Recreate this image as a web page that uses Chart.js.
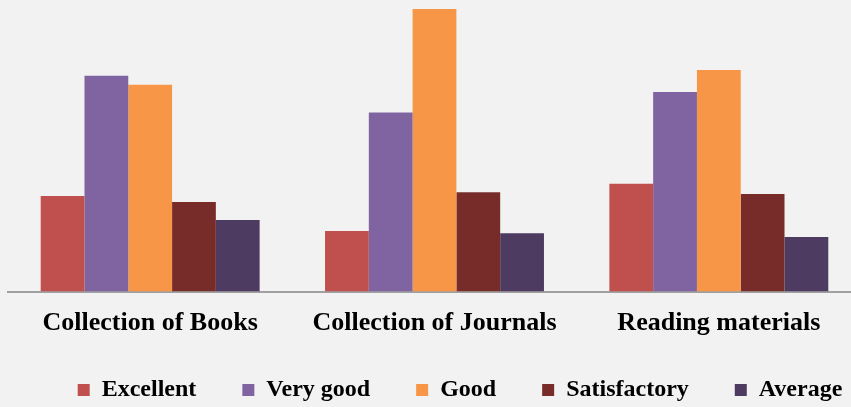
<!DOCTYPE html>
<html>
<head>
<meta charset="utf-8">
<script src="https://cdn.jsdelivr.net/npm/chart.js@4.4.0/dist/chart.umd.min.js"></script>
<style>
    html, body { margin: 0; padding: 0; background: #f2f2f2; overflow: hidden; }
    #wrap { position: absolute; left: 0; top: 0; width: 920px; height: 407px; }
</style>
</head>
<body>
<div id="wrap"><canvas id="ratingChart"></canvas></div>
<script>
// Categories and series
const categories = ['Collection of Books', 'Collection of Journals', 'Reading materials'];
const excellent = [34.1, 21.6, 38.4];
const veryGood = [77.0, 63.9, 71.2];
const good = [73.8, 100.8, 79.0];
const satisfactory = [31.9, 35.4, 34.8];
const average = [25.5, 20.8, 19.4];

const seriesNames = ['Excellent', 'Very good', 'Good', 'Satisfactory', 'Average'];
const seriesColors = ['#c0504d', '#8064a2', '#f79646', '#772c2a', '#4d3b62'];
const seriesData = [excellent, veryGood, good, satisfactory, average];

const serif = "'Liberation Serif', 'Times New Roman', serif";

const ctx = document.getElementById('ratingChart');

new Chart(ctx, {
    type: 'bar',
    data: {
        labels: categories,
        datasets: seriesNames.map((name, i) => ({
            label: name,
            data: seriesData[i],
            backgroundColor: seriesColors[i],
            borderWidth: 0,
            categoryPercentage: 0.77,
            barPercentage: 1.0
        }))
    },
    options: {
        responsive: true,
        maintainAspectRatio: false,
        animation: false,
        layout: {
            padding: { left: 8, right: 8, top: 0, bottom: -5 }
        },
        plugins: {
            legend: {
                display: true,
                position: 'bottom',
                labels: {
                    color: '#000',
                    boxWidth: 12,
                    boxHeight: 12,
                    padding: 46,
                    font: { family: serif, size: 24, weight: 'bold' }
                }
            },
            tooltip: { enabled: false }
        },
        scales: {
            x: {
                grid: { color: 'rgba(0,0,0,0)', drawTicks: false },
                border: { display: true, color: '#a0a0a0', width: 2 },
                ticks: {
                    color: '#000',
                    padding: 16,
                    font: { family: serif, size: 26, weight: 'bold' }
                },
                afterFit: (scale) => {
                    scale.height = 40.5;
                    // labels hang a little below the squeezed axis box, so don't clip them
                    scale._computeLabelArea = () => undefined;
                }
            },
            y: {
                position: 'right',
                min: 0,
                max: 104,
                grid: { display: false },
                border: { display: false },
                ticks: { display: false },
                afterFit: (scale) => { scale.width = 51; }
            }
        }
    }
});
</script>
</body>
</html>
